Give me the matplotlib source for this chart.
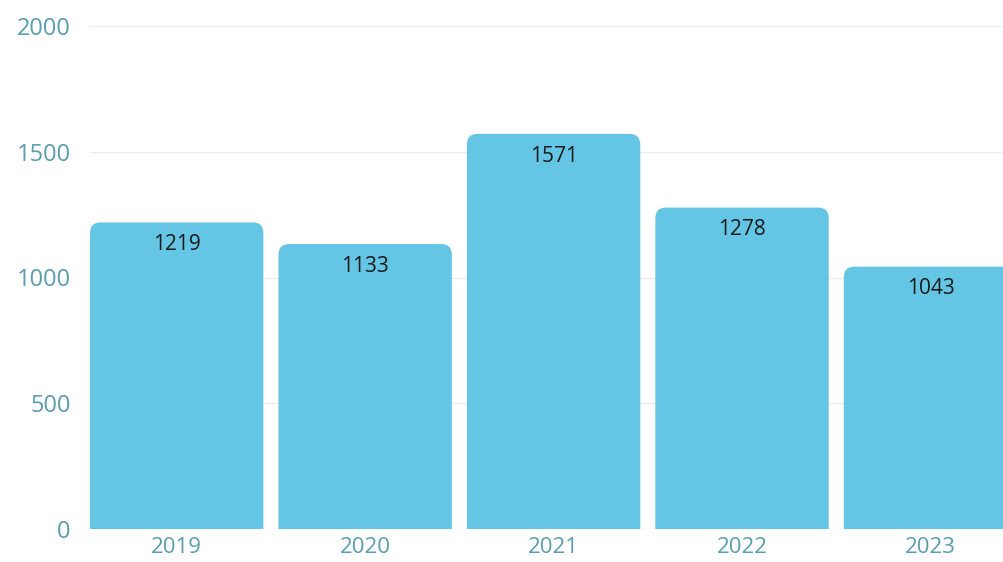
import matplotlib.pyplot as plt
from matplotlib.patches import FancyBboxPatch

years = ['2019', '2020', '2021', '2022', '2023']
values = [1219, 1133, 1571, 1278, 1043]

bar_color = '#64C5E5'
tick_color = '#5A9DAC'

plt.rcParams['font.family'] = ['Open Sans', 'DejaVu Sans']

fig = plt.figure(figsize=(10.04, 5.62), dpi=100)
ax = fig.add_axes([90 / 1004, 33 / 562, 914 / 1004, 503 / 562])
ax.set_xlim(-0.46, 4.39)
ax.set_ylim(0, 2000)

width = 0.92
rx = 0.055
ry = 42
for i, v in enumerate(values):
    # rounded top corners, bottom corners hidden below y=0
    box = FancyBboxPatch((i - width / 2 + rx, -ry * 2), width - 2 * rx, v + ry,
                         boxstyle=f'round,pad={rx},rounding_size={rx}',
                         mutation_aspect=ry / rx,
                         facecolor=bar_color, edgecolor='none', zorder=2)
    ax.add_patch(box)
    ax.annotate(str(v), (i, v), xytext=(0, -16), textcoords='offset points',
                ha='center', va='center', fontsize=15, color='#1a1a1a', zorder=3)

ax.set_xticks(range(len(years)))
ax.set_xticklabels(years)
ax.set_yticks([0, 500, 1000, 1500, 2000])
ax.tick_params(axis='both', length=0, labelsize=17, colors=tick_color)
ax.tick_params(axis='y', pad=14)
ax.tick_params(axis='x', labelsize=16, pad=6)
ax.grid(axis='y', color='#E6EEF0', linewidth=0.9, zorder=0)
for s in ax.spines.values():
    s.set_visible(False)

fig.savefig('out.png', dpi=100)
